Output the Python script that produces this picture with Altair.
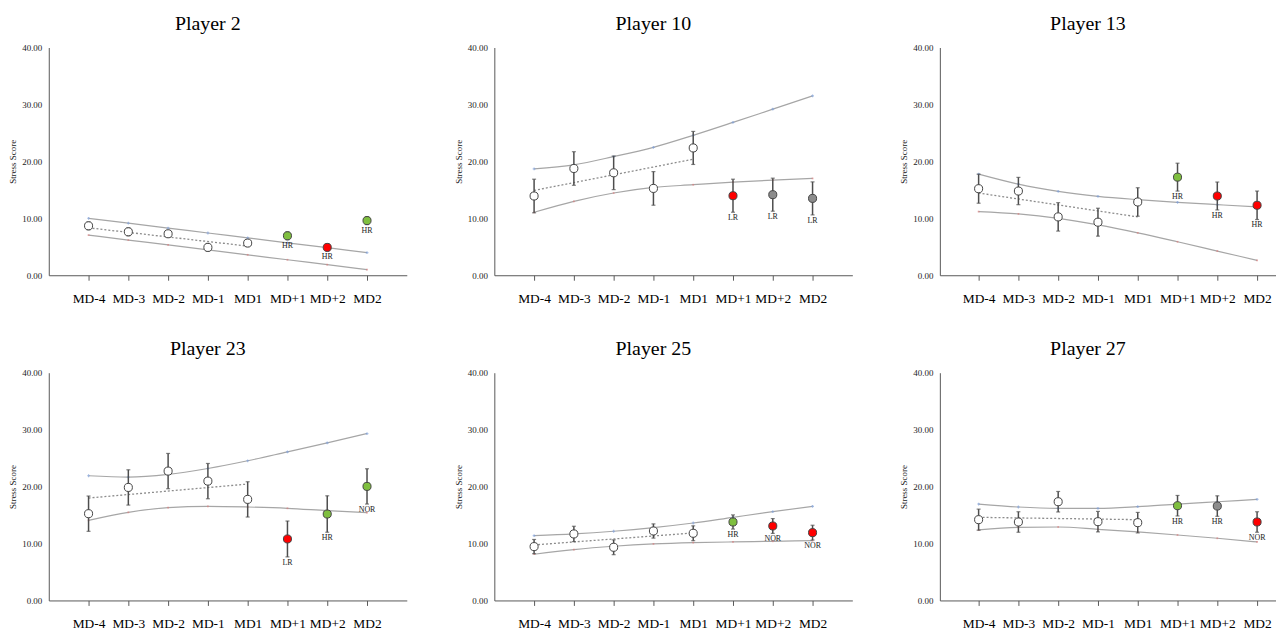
import altair as alt
import pandas as pd

days = ["MD-4", "MD-3", "MD-2", "MD-1", "MD1", "MD+1", "MD+2", "MD2"]
players = ["Player 2", "Player 10", "Player 13", "Player 23", "Player 25", "Player 27"]

# Player 2
p2_mean = [8.68, 7.63, 7.28, 4.89, 5.65, 6.93, 4.89, 9.60]
p2_err = [0.7, 0.7, 0.6, 0.7, 0.6, 0.7, 0.6, 0.7]
p2_upper = [10.0, 9.14, 8.28, 7.42, 6.56, 5.70, 4.84, 3.98]
p2_lower = [7.05, 6.18, 5.32, 4.45, 3.59, 2.72, 1.86, 0.99]
p2_trend = [8.33, 5.12]
p2_group = ["pre", "pre", "pre", "pre", "pre", "green", "red", "green"]
p2_label = ["", "", "", "", "", "HR", "HR", "HR"]

# Player 10
p10_mean = [13.92, 18.75, 17.99, 15.25, 22.36, 13.97, 14.15, 13.50]
p10_err = [2.95, 2.95, 2.95, 2.95, 2.9, 2.9, 2.9, 2.9]
p10_upper = [18.69, 19.4, 20.84, 22.47, 24.57, 26.84, 29.17, 31.5]
p10_lower = [11.06, 12.98, 14.44, 15.43, 15.9, 16.36, 16.71, 17.0]
p10_trend = [14.9, 20.38]
p10_group = ["pre", "pre", "pre", "pre", "pre", "red", "gray", "gray"]
p10_label = ["", "", "", "", "", "LR", "LR", "LR"]

# Player 13
p13_mean = [15.2, 14.79, 10.25, 9.32, 12.87, 17.23, 13.92, 12.29]
p13_err = [2.55, 2.4, 2.5, 2.45, 2.5, 2.45, 2.45, 2.5]
p13_upper = [17.76, 16.0, 14.73, 13.86, 13.28, 12.81, 12.4, 12.0]
p13_lower = [11.18, 10.77, 10.0, 8.85, 7.45, 5.88, 4.25, 2.62]
p13_trend = [14.44, 10.25]
p13_group = ["pre", "pre", "pre", "pre", "pre", "green", "red", "red"]
p13_label = ["", "", "", "", "", "HR", "HR", "HR"]

# Player 23
p23_mean = [15.24, 19.85, 22.72, 20.96, 17.75, 10.8, 15.18, 20.03]
p23_err = [3.1, 3.1, 3.1, 3.1, 3.1, 3.15, 3.2, 3.1]
p23_upper = [21.9, 21.66, 22.13, 23.18, 24.53, 26.1, 27.68, 29.31]
p23_lower = [14.07, 15.47, 16.29, 16.53, 16.41, 16.18, 15.77, 15.42]
p23_trend = [17.99, 20.44]
p23_group = ["pre", "pre", "pre", "pre", "pre", "red", "green", "green"]
p23_label = ["", "", "", "", "", "LR", "HR", "NOR"]

# Player 25
p25_mean = [9.46, 11.68, 9.34, 12.2, 11.8, 13.78, 13.08, 11.91]
p25_err = [1.25, 1.35, 1.3, 1.25, 1.3, 1.25, 1.3, 1.3]
p25_upper = [11.39, 11.68, 12.15, 12.79, 13.6, 14.6, 15.59, 16.53]
p25_lower = [8.12, 8.93, 9.52, 9.93, 10.16, 10.28, 10.39, 10.51]
p25_trend = [9.75, 11.85]
p25_group = ["pre", "pre", "pre", "pre", "pre", "green", "red", "red"]
p25_label = ["", "", "", "", "", "HR", "NOR", "NOR"]

# Player 27
p27_mean = [14.19, 13.78, 17.34, 13.84, 13.66, 16.64, 16.58, 13.78]
p27_err = [1.85, 1.8, 1.8, 1.8, 1.8, 1.8, 1.8, 1.8]
p27_upper = [16.93, 16.41, 16.18, 16.18, 16.47, 16.93, 17.34, 17.75]
p27_lower = [12.38, 12.85, 12.9, 12.5, 12.03, 11.5, 10.92, 10.28]
p27_trend = [14.6, 14.19]
p27_group = ["pre", "pre", "pre", "pre", "pre", "green", "gray", "red"]
p27_label = ["", "", "", "", "", "HR", "HR", "NOR"]

SERIF = "Liberation Serif, Times New Roman, serif"
AX = "#595959"


def panel(title, mean, err, upper, lower, trend, group, label, width, padding=1.0, align=0.5):
    df = pd.DataFrame({
        "day": days, "mean": mean,
        "lo": [m - e for m, e in zip(mean, err)],
        "hi": [m + e for m, e in zip(mean, err)],
        "upper": upper, "lower": lower, "group": group, "label": label,
    })
    tdf = pd.DataFrame({"day": [days[0], days[4]], "v": trend})
    xenc = alt.X("day:N", sort=days,
                 scale=alt.Scale(type="point", padding=padding, align=align, domain=days),
                 axis=alt.Axis(title=None, labelAngle=0, labelFont=SERIF, labelFontSize=13.5,
                               labelColor="black", tickSize=5, tickColor=AX, domainColor=AX,
                               labelPadding=11, grid=False, labelOverlap=False))
    yscale = alt.Scale(domain=[0, 40], nice=False)
    yaxis = alt.Axis(values=list(range(0, 45, 5)), format=".2f", title="Stress Score",
                     titleFont=SERIF, titleFontSize=9, titleFontWeight="normal", titleColor="#222",
                     labelFont=SERIF, labelFontSize=9, labelColor="#222", ticks=False,
                     labelPadding=7, titlePadding=4, grid=False, domainColor=AX)
    base = alt.Chart(df).encode(x=xenc)
    up_line = base.mark_line(interpolate="monotone", color="#a6a6a6", strokeWidth=1.2).encode(
        y=alt.Y("upper:Q", scale=yscale, axis=yaxis))
    lo_line = base.mark_line(interpolate="monotone", color="#a6a6a6", strokeWidth=1.2).encode(
        y=alt.Y("lower:Q", scale=yscale))
    up_mk = base.mark_point(shape="cross", size=8, filled=True, color="#7f9fd8").encode(
        y=alt.Y("upper:Q", scale=yscale))
    lo_mk = base.mark_point(shape="square", size=3, filled=True, color="#d87f7f").encode(
        y=alt.Y("lower:Q", scale=yscale))
    tline = alt.Chart(tdf).mark_line(color="#8c8c8c", strokeDash=[2, 2], strokeWidth=1.3).encode(
        x=alt.X("day:N", sort=days), y=alt.Y("v:Q", scale=yscale))
    bars = base.mark_rule(color="#4d4d4d", strokeWidth=1.5).encode(
        y=alt.Y("lo:Q", scale=yscale), y2="hi:Q")
    cap_lo = base.mark_tick(color="#4d4d4d", thickness=1.2, size=4).encode(
        y=alt.Y("lo:Q", scale=yscale))
    cap_hi = base.mark_tick(color="#4d4d4d", thickness=1.2, size=4).encode(
        y=alt.Y("hi:Q", scale=yscale))
    pts = base.mark_point(filled=True, size=66, stroke="#444", strokeWidth=1, opacity=1).encode(
        y=alt.Y("mean:Q", scale=yscale),
        fill=alt.Fill("group:N", legend=None,
                      scale=alt.Scale(domain=["pre", "green", "red", "gray"],
                                      range=["#ffffff", "#7fbf3f", "#ff0000", "#8c8c8c"])))
    txt = base.mark_text(font=SERIF, fontSize=8, color="#222", baseline="top", dy=2).encode(
        y=alt.Y("lo:Q", scale=yscale), text="label:N")
    return alt.layer(up_line, lo_line, up_mk, lo_mk, tline, bars, cap_lo, cap_hi, pts, txt).properties(
        width=width, height=229,
        title=alt.TitleParams(title, font=SERIF, fontSize=20, fontWeight="normal", color="black",
                              frame="bounds", anchor="middle", offset=10))


row1 = alt.hconcat(
    panel(players[0], p2_mean, p2_err, p2_upper, p2_lower, p2_trend, p2_group, p2_label, 360),
    panel(players[1], p10_mean, p10_err, p10_upper, p10_lower, p10_trend, p10_group, p10_label, 360),
    panel(players[2], p13_mean, p13_err, p13_upper, p13_lower, p13_trend, p13_group, p13_label, 338,
          padding=0.725, align=0.672),
    spacing=47)
row2 = alt.hconcat(
    panel(players[3], p23_mean, p23_err, p23_upper, p23_lower, p23_trend, p23_group, p23_label, 360),
    panel(players[4], p25_mean, p25_err, p25_upper, p25_lower, p25_trend, p25_group, p25_label, 360),
    panel(players[5], p27_mean, p27_err, p27_upper, p27_lower, p27_trend, p27_group, p27_label, 338,
          padding=0.725, align=0.672),
    spacing=47)

chart = alt.vconcat(row1, row2, spacing=34).properties(
    padding={"left": 0, "top": 4, "right": 0, "bottom": 0},
    background="white",
).configure_view(strokeWidth=0, stroke="transparent")

chart.save("out.html", embed_options={"renderer": "svg", "actions": False})
